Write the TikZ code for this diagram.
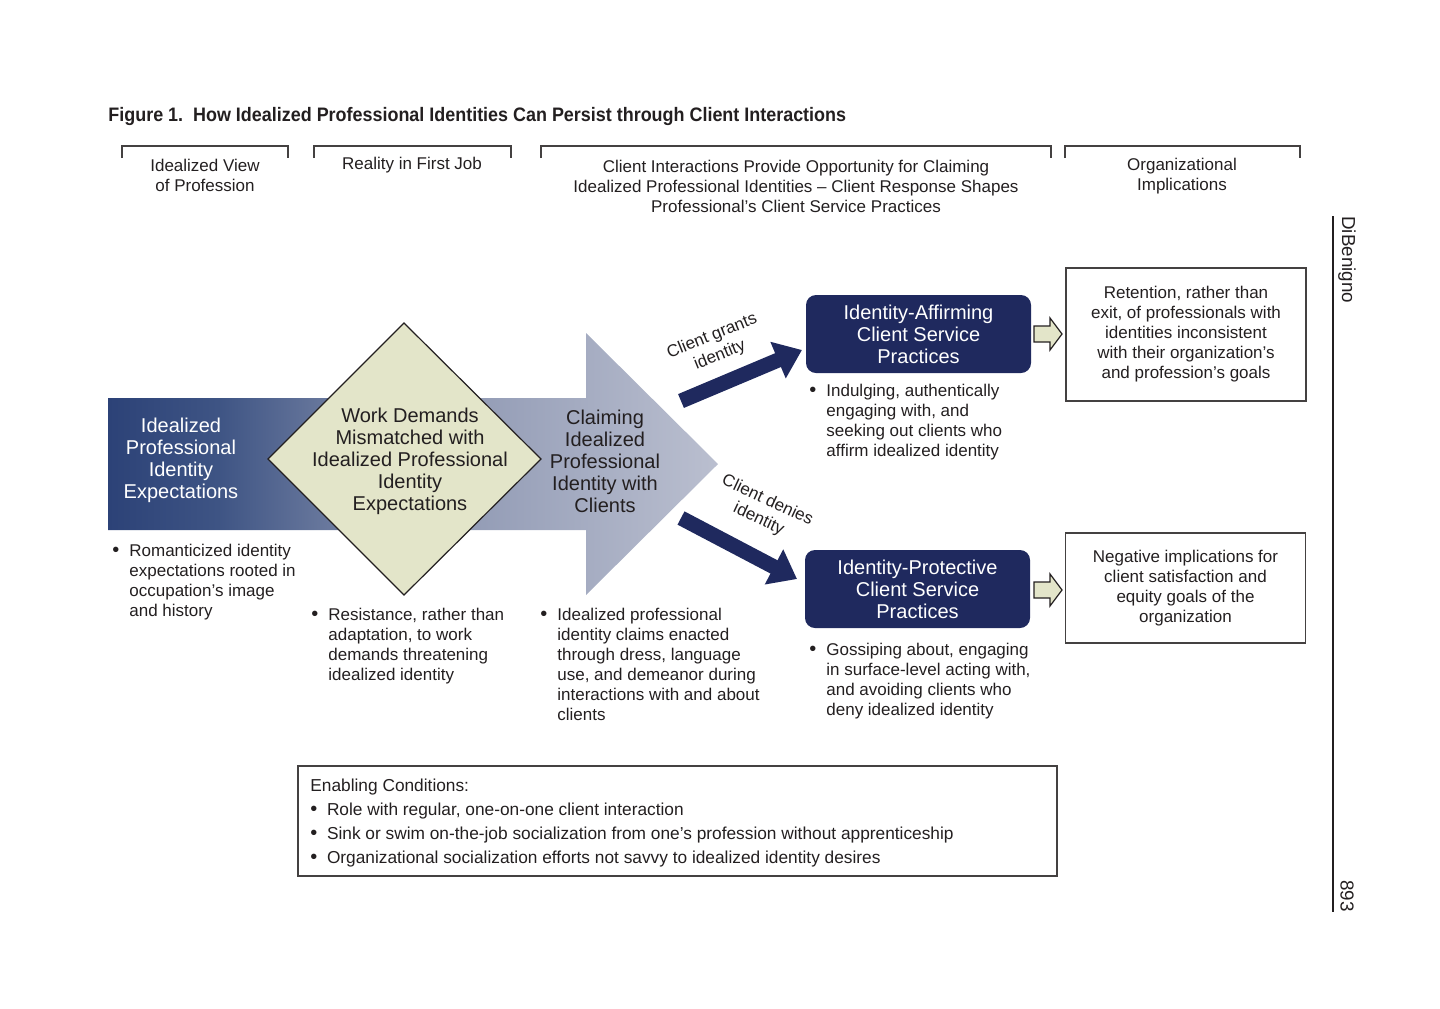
\documentclass[tikz,border=0pt]{standalone}
\usepackage{fontspec}
\setmainfont{Liberation Sans}
\newfontfamily\titlefont[FakeStretch=0.92]{Liberation Sans}
\usepackage{xcolor}
\usetikzlibrary{shapes,arrows,positioning,calc,arrows.meta}

\definecolor{navy}{RGB}{31,41,94}
\definecolor{ink}{RGB}{35,31,32}
\definecolor{sage}{RGB}{227,229,201}
\definecolor{shA}{RGB}{34,56,112}
\definecolor{shB}{RGB}{62,84,132}
\definecolor{shC}{RGB}{138,148,176}
\definecolor{shD}{RGB}{192,196,211}
\definecolor{shE}{RGB}{230,230,236}
\pgfdeclarehorizontalshading{flowshade}{100bp}{color(0bp)=(navy); color(20bp)=(shA); color(34bp)=(shB); color(50bp)=(shC); color(78bp)=(shD); color(100bp)=(shE)}

\newcommand{\bul}[1]{\begin{tabular}[t]{@{}p{8.5pt}@{}l@{}}{\fontsize{10}{10}\selectfont\textbullet} & \begin{tabular}[t]{@{}l@{}}#1\end{tabular}\end{tabular}}

\begin{document}
\begin{tikzpicture}[x=0.5pt,y=-0.5pt,
    body/.style={font=\fontsize{8.5}{10}\selectfont, text=ink, inner sep=0pt},
    head/.style={font=\fontsize{8.5}{10}\selectfont, text=ink, inner sep=0pt, align=center},
    navybox/.style={rounded corners=5pt, fill=navy, text=white, minimum width=112.5pt, minimum height=39pt, font=\fontsize{10}{11}\selectfont, align=center},
    implbox/.style={draw=ink!85, line width=0.65pt, minimum width=120pt, font=\fontsize{8.5}{10}\selectfont, text=ink, align=center},
    bracket/.style={draw=ink!85, line width=0.65pt},
    thick arrow/.style={navy, line width=7.5pt, -{Triangle[length=13pt,width=19pt]}},
    hollow/.style={draw=ink, line width=0.6pt, fill=sage, line join=miter},
    tilted/.style={font=\fontsize{8.5}{10.3}\selectfont, text=ink, align=center, inner sep=0pt}]
    \useasboundingbox (0,0) rectangle (1440,1008);

    % title
    \node[anchor=base west, inner sep=0pt, text=ink, font=\titlefont\bfseries\fontsize{9.75}{12}\selectfont] (title) at (108,121) {Figure 1.\ \ How Idealized Professional Identities Can Persist through Client Interactions};

    % column headers
    \draw[bracket] (122,158) -- (122,146) -- (288,146) -- (288,158);
    \draw[bracket] (314,158) -- (314,146) -- (511,146) -- (511,158);
    \draw[bracket] (541,158) -- (541,146) -- (1051,146) -- (1051,158);
    \draw[bracket] (1065,158) -- (1065,146) -- (1300,146) -- (1300,158);
    \node[head] (hview) at (205,175) {Idealized View\\of Profession};
    \node[head] (hreal) at (412,165) {Reality in First Job};
    \node[head] (hclient) at (796,186) {Client Interactions Provide Opportunity for Claiming\\Idealized Professional Identities -- Client Response Shapes\\Professional’s Client Service Practices};
    \node[head] (horg) at (1182,176) {Organizational\\Implications};

    % big flow arrow
    \path[shading=flowshade] (108,398) -- (586,398) -- (586,333) -- (718,464) -- (586,595) -- (586,530) -- (108,530) -- cycle;
    \draw[draw=ink, line width=0.6pt, fill=sage] (404,323) -- (541,459) -- (404,595) -- (268,459) -- cycle;
    \node[body, text=white, align=center, font=\fontsize{10}{11}\selectfont] (ideal) at (181,460) {Idealized\\Professional\\Identity\\Expectations};
    \node[body, align=center, font=\fontsize{10}{11}\selectfont] (work) at (410,461) {Work Demands\\Mismatched with\\Idealized Professional\\Identity\\Expectations};
    \node[body, align=center, font=\fontsize{10}{11}\selectfont] (claim) at (605,461) {Claiming\\Idealized\\Professional\\Identity with\\Clients};

    % client service practices
    \node[navybox] (affirm) at (918.5,334) {Identity-Affirming\\Client Service\\Practices};
    \node[navybox] (protect) at (917.5,589) {Identity-Protective\\Client Service\\Practices};

    \coordinate (g0) at (681,401);
    \coordinate (g1) at (802,350);
    \coordinate (d0) at (681,518);
    \coordinate (d1) at (797,579);
    \draw[thick arrow] (g0) -- (g1);
    \draw[thick arrow] (d0) -- (d1);
    \node[tilted, rotate=22] (grants) at (716,346) {Client grants\\identity};
    \node[tilted, rotate=-25] (denies) at (763,510) {Client denies\\identity};

    % organizational implications
    \node[implbox, minimum height=66.5pt] (retain) at (1186,334.5) {Retention, rather than\\exit, of professionals with\\identities inconsistent\\with their organization’s\\and profession’s goals};
    \node[implbox, minimum height=55pt] (negative) at (1185.5,588) {Negative implications for\\client satisfaction and\\equity goals of the\\organization};
    \draw[hollow] (1034,326) -- (1050,326) -- (1050,318) -- (1062,334) -- (1050,350) -- (1050,342) -- (1034,342) -- cycle;
    \draw[hollow] (1034,582) -- (1050,582) -- (1050,574) -- (1062,590) -- (1050,606) -- (1050,598) -- (1034,598) -- cycle;

    % bullet notes
    \node[body, anchor=base west] (romant) at (112,556) {\bul{Romanticized identity\\expectations rooted in\\occupation’s image\\and history}};
    \node[body, anchor=base west] (resist) at (311,620) {\bul{Resistance, rather than\\adaptation, to work\\demands threatening\\idealized identity}};
    \node[body, anchor=base west] (enact) at (540,620) {\bul{Idealized professional\\identity claims enacted\\through dress, language\\use, and demeanor during\\interactions with and about\\clients}};
    \node[body, anchor=base west] (indulge) at (809,396) {\bul{Indulging, authentically\\engaging with, and\\seeking out clients who\\affirm idealized identity}};
    \node[body, anchor=base west] (gossip) at (809,655) {\bul{Gossiping about, engaging\\in surface-level acting with,\\and avoiding clients who\\deny idealized identity}};

    % enabling conditions
    \node[draw=ink!85, line width=0.65pt, minimum width=379.5pt, minimum height=55pt] (enable) at (677.5,821) {};
    \node[body, anchor=base west, align=left, font=\fontsize{8.65}{12}\selectfont] (enabletxt) at (310,791) {\begin{tabular}[t]{@{}p{8.3pt}@{}l@{}}\multicolumn{2}{@{}l@{}}{Enabling Conditions:}\\
    {\fontsize{10}{10}\selectfont\textbullet} & Role with regular, one-on-one client interaction\\
    {\fontsize{10}{10}\selectfont\textbullet} & Sink or swim on-the-job socialization from one’s profession without apprenticeship\\
    {\fontsize{10}{10}\selectfont\textbullet} & Organizational socialization efforts not savvy to idealized identity desires\end{tabular}};

    % page margin
    \draw[ink, line width=0.6pt] (1333,216) -- (1333,912);
    \node[rotate=-90, anchor=west, inner sep=0pt, text=ink, font=\fontsize{9.4}{10}\selectfont] (author) at (1347,216) {DiBenigno};
    \node[rotate=-90, anchor=east, inner sep=0pt, text=ink, font=\fontsize{9.4}{10}\selectfont] (page) at (1347,912) {893};
\end{tikzpicture}
\end{document}
